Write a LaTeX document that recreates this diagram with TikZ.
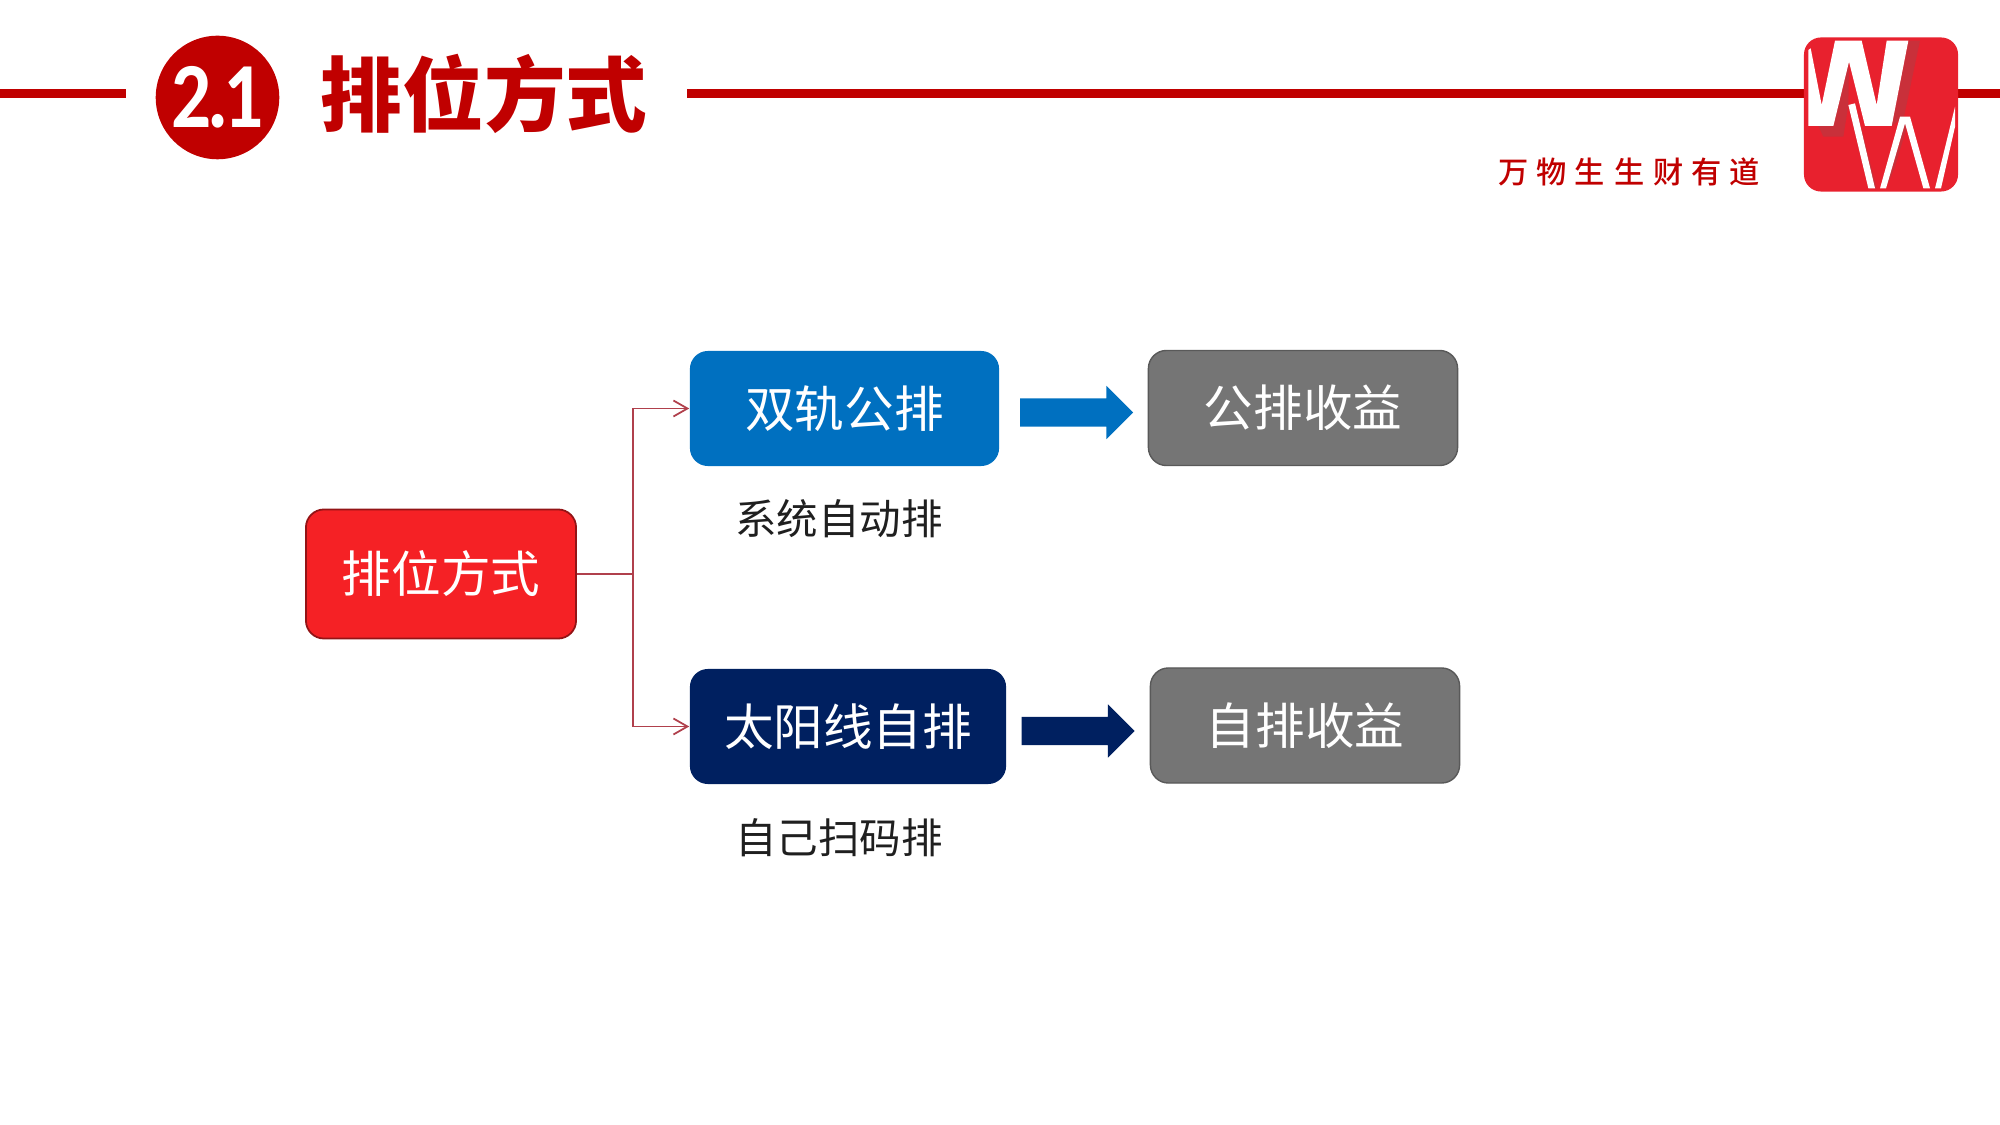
\documentclass[tikz,border=0pt]{standalone}
\usepackage{fontspec}
\usepackage{tikz}
\usetikzlibrary{arrows.meta,shapes.arrows}
\setmainfont{Noto Sans CJK SC}
\newfontfamily\titlefont[BoldFont={Noto Sans CJK SC Black}]{Noto Sans CJK SC}
\newfontfamily\sloganfont[LetterSpace=26]{Noto Sans CJK SC Medium}
\newfontfamily\badgefont{Carlito}[BoldFont={Carlito Bold}]
\definecolor{DeepRed}{HTML}{C00000}
\definecolor{LogoRed}{HTML}{E8212E}
\definecolor{LogoShade}{HTML}{C9303A}
\definecolor{BranchRed}{HTML}{B0404C}
\definecolor{BoxRed}{HTML}{F52125}
\definecolor{BoxBlue}{HTML}{0070C0}
\definecolor{BoxNavy}{HTML}{002060}
\definecolor{BoxGray}{HTML}{757575}
\tikzset{
	headline/.style={DeepRed,line width=0.09cm},
	box/.style={rounded corners=0.18cm,inner sep=0,text=white,font=\fontsize{14.1}{15}\selectfont},
	grayBox/.style={box,draw=black!65,line width=0.4pt,fill=BoxGray,minimum width=3.09cm,minimum height=1.15cm},
	caption/.style={inner sep=0,text=black!88,font=\fontsize{11.8}{12}\selectfont},
	blockArrow/.style={single arrow,single arrow head extend=0.125cm,single arrow tip angle=90,inner xsep=0,inner ysep=0.135cm,outer sep=0,minimum height=1.13cm},
	branch/.style={BranchRed,line width=0.5pt,-{Straight Barb[length=1.4mm,width=1.6mm,line width=0.5pt]}}
}
\begin{document}
\begin{tikzpicture}[x=0.01cm,y=-0.01cm]
	\useasboundingbox (0,0) rectangle (2000,1125);
	% header
	\coordinate (RuleA) at (0,93.5);
	\coordinate (RuleB) at (126,93.5);
	\coordinate (RuleC) at (687,93.5);
	\coordinate (RuleD) at (2000,93.5);
	\draw[headline] (RuleA) -- (RuleB);
	\draw[headline] (RuleC) -- (RuleD);
	\node[circle,fill=DeepRed,minimum size=1.235cm,inner sep=0,text=white] (Badge) at (217.5,97.5) {\scalebox{0.85}[1]{\fontsize{26.5}{27}\badgefont\bfseries 2\kern-0.05em.\kern-0.06em 1}};
	\node[inner sep=0,text=DeepRed] (Title) at (484,94) {\fontsize{23.2}{24}\titlefont\bfseries 排位方式};
	\node[inner sep=0,text=DeepRed] (Slogan) at (1629,172) {\fontsize{8.6}{9}\sloganfont 万物生\hspace{0.1cm}生财有道};
	% logo
	\node[rounded corners=0.17cm,fill=LogoRed,minimum size=1.54cm,inner sep=0] (Logo) at (1881,114.5) {};
	\begin{scope}[shift={(1780,20)},x=0.01cm/3,y=-0.01cm/3]
		\fill[LogoShade] (385,62) -- (420,62) -- (372,290) -- (335,318) -- cycle;
		\fill[LogoShade] (115,318) -- (130,350) -- (190,350) -- (205,255) -- (207,125) -- cycle;
		\fill[LogoShade] (360,290) -- (390,290) -- (345,440) -- (318,505) -- cycle;
		\fill[white] (165,62) -- (125,255) -- (92,85) -- (85,90) -- (85,318) -- (160,318) -- (207,125) -- (255,318) -- (335,318) -- (385,62) -- (320,62) -- (290,255) -- (245,62) -- cycle;
		\fill[LogoShade] (205,258) -- (225,250) -- (290,505) -- (265,505) -- cycle;
		\fill[white] (205,255) -- (225,250) -- (285,505) -- (265,505) -- cycle;
		\fill[white] (300,505) -- (360,290) -- (390,290) -- (450,505) -- (430,505) -- (375,310) -- (318,505) -- cycle;
		\fill[white] (465,505) -- (525,260) -- (525,320) -- (483,505) -- cycle;
	\end{scope}
	% boxes
	\node[box,draw=BoxRed!60!black,line width=0.5pt,fill=BoxRed,minimum width=2.70cm,minimum height=1.29cm] (PaiWei) at (441,574) {排位方式};
	\node[box,fill=BoxBlue,minimum width=3.09cm,minimum height=1.15cm] (ShuangGui) at (844.5,408.5) {双轨公排};
	\node[box,fill=BoxNavy,minimum width=3.16cm,minimum height=1.15cm] (TaiYang) at (848,726.5) {太阳线自排};
	\node[grayBox] (GongShou) at (1303,408) {公排收益};
	\node[grayBox] (ZiShou) at (1305,725.5) {自排收益};
	\node[caption] (XiTong) at (839,519) {系统自动排};
	\node[caption] (ZiJi) at (839,838) {自己扫码排};
	\node[blockArrow,fill=BoxBlue] (ArrowA) at (1069.5,412.5) {};
	\node[blockArrow,fill=BoxNavy] (ArrowB) at (1071,731) {};
	% branches
	\coordinate (Fork) at (633,574);
	\draw[branch] (PaiWei.east) -- (Fork) |- (ShuangGui.west);
	\draw[branch] (Fork) |- (TaiYang.west);
\end{tikzpicture}
\end{document}
